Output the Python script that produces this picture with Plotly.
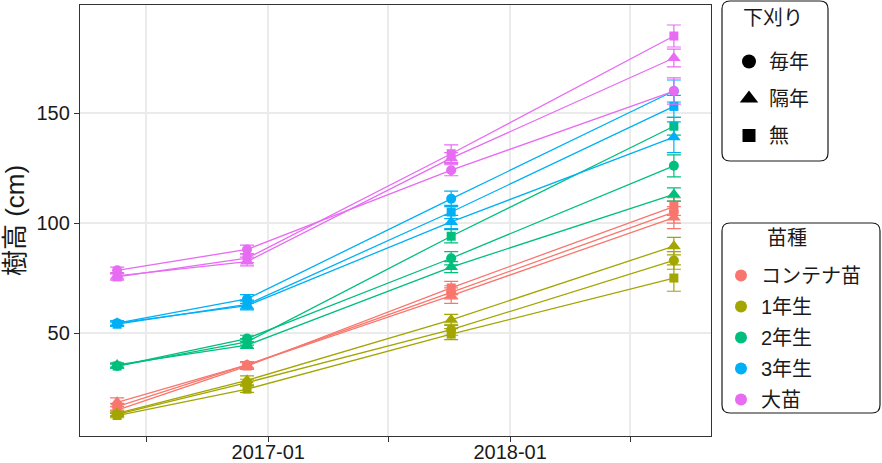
import plotly.graph_objects as go

# ---------------- data ----------------
dates = ["2016-05-18", "2016-11-30", "2017-10-04", "2018-09-05"]

species = ["コンテナ苗", "1年生", "2年生", "3年生", "大苗"]
species_colors = ["#F8766D", "#A3A500", "#00BF7D", "#00B0F6", "#E76BF3"]

weeding = ["毎年", "隔年", "無"]
weeding_symbols = ["circle", "triangle-up", "square"]

# mean tree height (cm): species x weeding
cont_every = [16.5, 35.5, 68.5, 105.0]
cont_alt = [18.5, 35.5, 67.0, 102.5]
cont_none = [15.0, 35.0, 70.5, 107.5]

y1_every = [13.0, 27.5, 51.5, 83.0]
y1_alt = [13.5, 28.5, 56.0, 89.5]
y1_none = [12.5, 24.5, 49.5, 75.0]

y2_every = [35.0, 47.5, 84.0, 126.0]
y2_alt = [35.5, 44.5, 80.0, 113.0]
y2_none = [35.0, 46.0, 94.0, 144.0]

y3_every = [54.5, 65.5, 111.0, 160.0]
y3_alt = [54.5, 62.5, 100.5, 139.0]
y3_none = [54.0, 63.0, 105.0, 153.0]

big_every = [78.5, 88.0, 124.0, 160.0]
big_alt = [76.0, 82.5, 129.5, 175.0]
big_none = [75.5, 84.0, 131.5, 185.0]

# standard errors
cont_every_se = [1.5, 1.5, 3.0, 5.0]
cont_alt_se = [2.0, 1.5, 3.5, 5.0]
cont_none_se = [1.5, 1.5, 3.0, 4.0]

y1_every_se = [1.0, 1.5, 2.5, 4.0]
y1_alt_se = [1.0, 2.0, 2.5, 4.0]
y1_none_se = [1.0, 1.5, 2.5, 6.0]

y2_every_se = [1.0, 1.5, 3.0, 5.0]
y2_alt_se = [1.0, 1.5, 2.5, 3.0]
y2_none_se = [1.0, 1.5, 3.0, 4.0]

y3_every_se = [1.0, 2.0, 3.5, 5.0]
y3_alt_se = [1.0, 2.0, 3.0, 7.0]
y3_none_se = [1.0, 2.0, 3.0, 5.0]

big_every_se = [1.5, 2.0, 2.5, 6.0]
big_alt_se = [1.5, 2.0, 2.5, 4.0]
big_none_se = [1.5, 2.0, 4.0, 5.0]

means = [
    [cont_every, cont_alt, cont_none],
    [y1_every, y1_alt, y1_none],
    [y2_every, y2_alt, y2_none],
    [y3_every, y3_alt, y3_none],
    [big_every, big_alt, big_none],
]
ses = [
    [cont_every_se, cont_alt_se, cont_none_se],
    [y1_every_se, y1_alt_se, y1_none_se],
    [y2_every_se, y2_alt_se, y2_none_se],
    [y3_every_se, y3_alt_se, y3_none_se],
    [big_every_se, big_alt_se, big_none_se],
]

x_tickvals = ["2016-07-01", "2017-01-01", "2017-07-01", "2018-01-01", "2018-07-01"]
x_ticktext = ["", "2017-01", "", "2018-01", ""]
y_tickvals = [50, 100, 150]

legend_title_weeding = "下刈り"
legend_title_species = "苗種"
y_title = "樹高 (cm)"

FONT = "Liberation Sans, Arial, Noto Sans CJK JP, sans-serif"
marker_sizes = {"circle": 10, "triangle-up": 12, "square": 9}

fig = go.Figure()

for si, (sp, col) in enumerate(zip(species, species_colors)):
    for wi, (w, sym) in enumerate(zip(weeding, weeding_symbols)):
        fig.add_trace(go.Scatter(
            x=dates, y=means[si][wi],
            mode="lines+markers",
            line=dict(color=col, width=1.3),
            marker=dict(symbol=sym, size=marker_sizes[sym], color=col),
            error_y=dict(type="data", array=ses[si][wi], visible=True,
                         color=col, thickness=1.2, width=7),
            showlegend=False,
            name=f"{sp} {w}",
        ))

# legend entries: weeding (shapes)
for w, sym in zip(weeding, weeding_symbols):
    fig.add_trace(go.Scatter(
        x=[None], y=[None], mode="markers",
        marker=dict(symbol=sym, color="black", size=marker_sizes[sym] + 4),
        name=w, legend="legend", legendgroup="w_" + w, showlegend=True,
    ))
# legend entries: species (colors)
for sp, col in zip(species, species_colors):
    fig.add_trace(go.Scatter(
        x=[None], y=[None], mode="markers",
        marker=dict(symbol="circle", color=col, size=12),
        name=sp, legend="legend2", legendgroup="s_" + sp, showlegend=True,
    ))

# ---------------- layout ----------------
W, H = 882, 463
L, R, T, B = 80, 171, 5, 27
pw, ph = W - L - R, H - T - B


def px_to_paper(px, py):
    return (px - L) / pw, (H - B - py) / ph


def rounded_box(x0, y0, x1, y1, r=8):
    rx = r / pw
    ry = r / ph
    a0, b0 = px_to_paper(x0, y1)  # bottom-left
    a1, b1 = px_to_paper(x1, y0)  # top-right
    return (f"M {a0+rx},{b0} L {a1-rx},{b0} Q {a1},{b0} {a1},{b0+ry} "
            f"L {a1},{b1-ry} Q {a1},{b1} {a1-rx},{b1} L {a0+rx},{b1} "
            f"Q {a0},{b1} {a0},{b1-ry} L {a0},{b0+ry} Q {a0},{b0} {a0+rx},{b0} Z")


shapes = [
    dict(type="path", xref="paper", yref="paper",
         path=rounded_box(722, 1, 828, 161), line=dict(color="#1a1a1a", width=1.2),
         fillcolor="rgba(0,0,0,0)", layer="above"),
    dict(type="path", xref="paper", yref="paper",
         path=rounded_box(722, 223, 880, 413), line=dict(color="#1a1a1a", width=1.2),
         fillcolor="rgba(0,0,0,0)", layer="above"),
]

t1x, t1y = px_to_paper(773, 18)
t2x, t2y = px_to_paper(787, 238)
annotations = [
    dict(text=legend_title_weeding, x=t1x, y=t1y, xref="paper", yref="paper",
         xanchor="center", yanchor="middle", showarrow=False,
         font=dict(size=20, color="#1a1a1a")),
    dict(text=legend_title_species, x=t2x, y=t2y, xref="paper", yref="paper",
         xanchor="center", yanchor="middle", showarrow=False,
         font=dict(size=20, color="#1a1a1a")),
]

lx1, ly1 = px_to_paper(729, 42)
lx2, ly2 = px_to_paper(721, 256)

fig.update_layout(
    width=W, height=H,
    margin=dict(l=L, r=R, t=T, b=B),
    paper_bgcolor="white", plot_bgcolor="white",
    font=dict(family=FONT, size=20, color="#1a1a1a"),
    shapes=shapes,
    annotations=annotations,
    legend=dict(
        x=lx1, y=ly1, xanchor="left", yanchor="top",
        bgcolor="rgba(0,0,0,0)", borderwidth=0,
        font=dict(size=20), traceorder="grouped", tracegroupgap=8,
        itemwidth=30,
    ),
    legend2=dict(
        x=lx2, y=ly2, xanchor="left", yanchor="top",
        bgcolor="rgba(0,0,0,0)", borderwidth=0,
        font=dict(size=20), traceorder="grouped", tracegroupgap=2,
        itemwidth=30,
    ),
    xaxis=dict(
        type="date", range=["2016-03-23", "2018-10-31"],
        tickvals=x_tickvals, ticktext=x_ticktext,
        showgrid=True, gridcolor="#EBEBEB", gridwidth=1.6,
        showline=True, mirror=True, linecolor="#333333", linewidth=1.3,
        ticks="outside", ticklen=5, tickwidth=1.3, tickcolor="#333333",
        tickfont=dict(size=20, color="#1a1a1a"), zeroline=False,
        ticklabelstandoff=-7,
        automargin=False,
    ),
    yaxis=dict(
        range=[3.2, 199.1], tickvals=y_tickvals,
        showgrid=True, gridcolor="#EBEBEB", gridwidth=1.6,
        showline=True, mirror=True, linecolor="#333333", linewidth=1.3,
        ticks="outside", ticklen=5, tickwidth=1.3, tickcolor="#333333",
        tickfont=dict(size=20, color="#1a1a1a"), zeroline=False,
        automargin=False,
        title=dict(text=y_title, font=dict(size=26, color="#1a1a1a"), standoff=4),
    ),
)

fig.write_html("out.html")
